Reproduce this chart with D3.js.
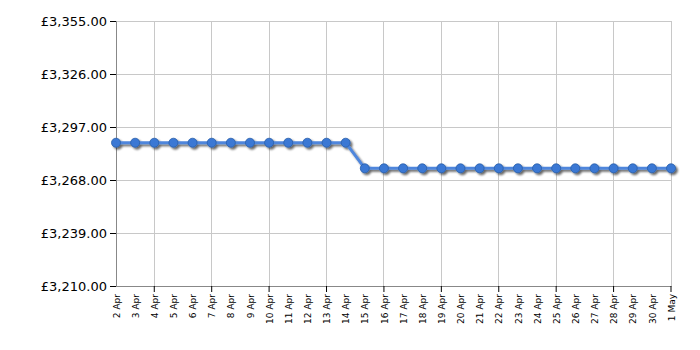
<!DOCTYPE html>
<html>
<head>
<meta charset="utf-8">
<script src="https://cdn.jsdelivr.net/npm/d3@7"></script>
<style>
  body { margin: 0; background: #fff; }
  text { font-family: "DejaVu Sans", Verdana, sans-serif; }
</style>
</head>
<body>
<div id="chart"></div>
<script>
const dates = ["2 Apr","3 Apr","4 Apr","5 Apr","6 Apr","7 Apr","8 Apr","9 Apr","10 Apr","11 Apr","12 Apr","13 Apr","14 Apr","15 Apr","16 Apr","17 Apr","18 Apr","19 Apr","20 Apr","21 Apr","22 Apr","23 Apr","24 Apr","25 Apr","26 Apr","27 Apr","28 Apr","29 Apr","30 Apr","1 May"];
const prices = [3288.4,3288.4,3288.4,3288.4,3288.4,3288.4,3288.4,3288.4,3288.4,3288.4,3288.4,3288.4,3288.4,
  3274.4,3274.4,3274.4,3274.4,3274.4,3274.4,3274.4,3274.4,3274.4,3274.4,3274.4,3274.4,3274.4,3274.4,3274.4,3274.4,3274.4];
const yTicks = [3210, 3239, 3268, 3297, 3326, 3355];

const margin = { top: 21, right: 29, bottom: 64, left: 116 };
const width = 700 - margin.left - margin.right;
const height = 350 - margin.top - margin.bottom;

const svg = d3.select("#chart").append("svg")
  .attr("width", 700).attr("height", 350);

const defs = svg.append("defs");
const f = defs.append("filter").attr("id", "shadow")
  .attr("x", "-20%").attr("y", "-50%").attr("width", "140%").attr("height", "200%");
f.append("feGaussianBlur").attr("in", "SourceAlpha").attr("stdDeviation", 1.3).attr("result", "b");
f.append("feOffset").attr("in", "b").attr("dx", 1.5).attr("dy", 2).attr("result", "o");
f.append("feComponentTransfer").attr("in", "o").attr("result", "s")
  .append("feFuncA").attr("type", "linear").attr("slope", 0.6);
const m = f.append("feMerge");
m.append("feMergeNode").attr("in", "s");
m.append("feMergeNode").attr("in", "SourceGraphic");

const g = svg.append("g").attr("transform", `translate(${margin.left},${margin.top})`);

const x = d3.scalePoint().domain(d3.range(dates.length)).range([0, width]);
const y = d3.scaleLinear().domain([3210, 3355]).range([height, 0]);

const gridIdx = d3.range(0, dates.length, 3).map(i => i + 2).filter(i => i < dates.length);

// grid
g.append("g").selectAll("line").data(yTicks).join("line")
  .attr("x1", 0).attr("x2", width)
  .attr("y1", d => y(d)).attr("y2", d => y(d))
  .attr("stroke", "#c8c8c8").attr("shape-rendering", "crispEdges");
g.append("g").selectAll("line").data(gridIdx).join("line")
  .attr("x1", d => x(d)).attr("x2", d => x(d))
  .attr("y1", 0).attr("y2", height)
  .attr("stroke", "#c8c8c8").attr("shape-rendering", "crispEdges");

// y axis
const yAxis = g.append("g")
  .call(d3.axisLeft(y).tickValues(yTicks).tickSize(6).tickPadding(3)
    .tickFormat(d => "£" + d3.format(",.2f")(d)));
yAxis.select(".domain").attr("stroke", "#888");
yAxis.selectAll(".tick line").attr("stroke", "#000");
yAxis.selectAll("text").attr("font-size", 13).attr("fill", "#000")
  .style("font-family", "\"DejaVu Sans\", Verdana, sans-serif");

// x axis
const xAxis = g.append("g").attr("transform", `translate(0,${height})`)
  .call(d3.axisBottom(x).tickSize(0).tickFormat(i => dates[i]));
xAxis.select(".domain").attr("stroke", "#888");
xAxis.selectAll("text")
  .attr("font-size", 9).attr("fill", "#000")
  .style("font-family", "\"DejaVu Sans\", Verdana, sans-serif")
  .attr("text-anchor", "end")
  .attr("transform", "rotate(-90)")
  .attr("x", -8).attr("y", 0).attr("dy", "0.35em");
xAxis.append("g").selectAll("line").data(gridIdx).join("line")
  .attr("x1", d => x(d)).attr("x2", d => x(d))
  .attr("y1", 0).attr("y2", 6).attr("stroke", "#000");

// line
const line = d3.line().x((d, i) => x(i)).y(d => y(d));
const series = g.append("g").attr("filter", "url(#shadow)");
series.append("path").datum(prices)
  .attr("d", line).attr("fill", "none")
  .attr("stroke", "#4f86dc").attr("stroke-width", 3);
series.selectAll("circle").data(prices).join("circle")
  .attr("cx", (d, i) => x(i)).attr("cy", d => y(d)).attr("r", 4.5)
  .attr("fill", "#3a78d4").attr("stroke", "#2a5ea8").attr("stroke-width", 0.8);
</script>
</body>
</html>
